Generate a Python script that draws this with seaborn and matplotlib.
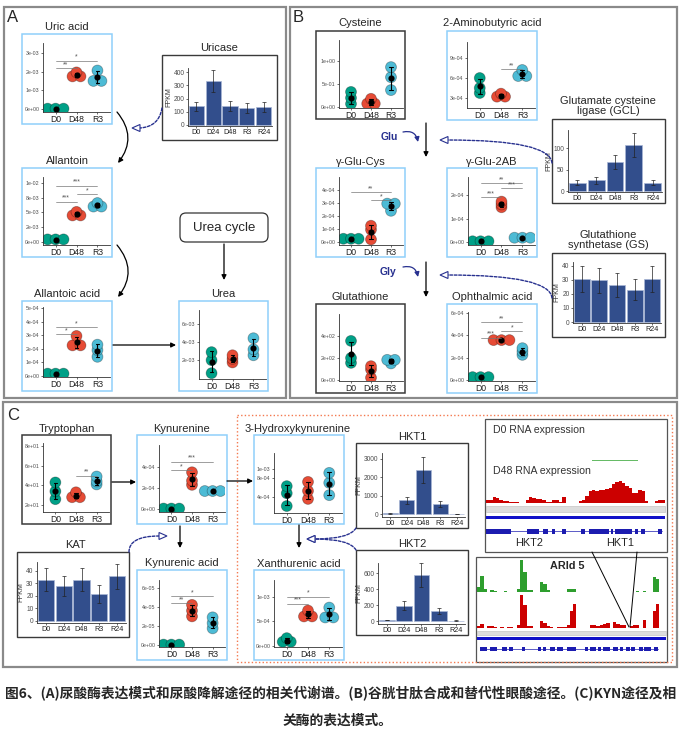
import warnings
import numpy as np
import pandas as pd
import matplotlib
matplotlib.use("Agg")
import matplotlib.pyplot as plt
import seaborn as sns
from matplotlib.patches import Rectangle, FancyArrowPatch, FancyBboxPatch, Polygon
from matplotlib.transforms import Affine2D

warnings.filterwarnings("ignore")

# ---------------- data ----------------
groups = ["D0", "D48", "R3"]
group_colors = ["#00A087", "#E64B35", "#4DBBD5"]
bar_groups = ["D0", "D24", "D48", "R3", "R24"]

# metabolites: three replicates per group (D0, D48, R3)
uric_acid = [[2e-5, 1e-5, 3e-5], [1.76e-3, 1.97e-3, 1.75e-3], [2.07e-3, 1.50e-3, 1.52e-3]]
allantoin = [[6e-4, 3e-4, 3e-4], [5.1e-3, 4.5e-3, 4.5e-3], [6.6e-3, 6.0e-3, 6.0e-3]]
allantoic_acid = [[2e-5, 1e-5, 1e-5], [2.95e-4, 2.3e-4, 2.2e-4], [2.3e-4, 1.9e-4, 1.4e-4]]
urea = [[2.9e-3, 2.0e-3, 0.55e-3], [2.55e-3, 2.15e-3, 1.75e-3], [4.45e-3, 3.2e-3, 2.55e-3]]
cysteine = [[0.33, 0.2, 0.07], [0.18, 0.07, 0.08], [0.87, 0.65, 0.37]]
aminobutyric = [[6.0e-4, 4.5e-4, 3.75e-4], [3.65e-4, 3.2e-4, 3.2e-4], [7.2e-4, 6.4e-4, 6.2e-4]]
glu_cys = [[2.5e-5, 2.5e-5, 2.5e-5], [1.25e-4, 0.95e-4, 0.2e-4], [2.95e-4, 2.95e-4, 2.4e-4]]
glu_2ab = [[3e-6, 3e-6, 3e-6], [1.48e-4, 1.6e-4, 1.72e-4], [1.8e-5, 1.8e-5, 1.8e-5]]
glutathione = [[355, 200, 155], [125, 95, 20], [185, 180, 150]]
ophthalmic = [[2.5e-5, 2.5e-5, 2.5e-5], [3.65e-4, 3.5e-4, 3.5e-4], [2.85e-4, 2.55e-4, 2.25e-4]]
tryptophan = [[43, 34, 26], [33, 28, 28], [49, 44, 41]]
kynurenine = [[4e-6, 4e-6, 4e-6], [3.5e-4, 2.7e-4, 2.3e-4], [1.7e-4, 1.7e-4, 1.72e-4]]
kynurenic_acid = [[5e-7, 5e-7, 5e-7], [4.2e-5, 3.6e-5, 3.0e-5], [2.9e-5, 2.3e-5, 1.75e-5]]
hydroxykyn = [[6.3e-4, 4.8e-4, 2.1e-4], [7.2e-4, 5.3e-4, 3.6e-4], [9.1e-4, 7.0e-4, 4.4e-4]]
xanthurenic = [[1.6e-4, 1.1e-4, 0.6e-4], [7.2e-4, 6.0e-4, 6.0e-4], [7.8e-4, 5.8e-4, 5.8e-4]]

# significance brackets: (group a, group b, height, stars)
uric_sig = [(0, 1, 2.2e-3, "**"), (0, 2, 2.6e-3, "*")]
allantoin_sig = [(0, 1, 6.8e-3, "***"), (1, 2, 8.1e-3, "*"), (0, 2, 9.5e-3, "***")]
allantoic_sig = [(0, 1, 3.1e-4, "*"), (0, 2, 3.6e-4, "*")]
amino_sig = [(1, 2, 7.3e-4, "**")]
glucys_sig = [(1, 2, 3.2e-4, "*"), (0, 2, 3.85e-4, "**")]
glu2ab_sig = [(0, 1, 1.92e-4, "***"), (1, 2, 2.3e-4, "***"), (0, 2, 2.5e-4, "**")]
ophth_sig = [(0, 1, 3.8e-4, "***"), (1, 2, 4.4e-4, "*"), (0, 2, 5.2e-4, "**")]
tryp_sig = [(1, 2, 50, "**")]
kyn_sig = [(0, 1, 3.7e-4, "*"), (0, 2, 4.5e-4, "***")]
kyna_sig = [(0, 1, 4.4e-5, "**"), (0, 2, 5.1e-5, "*")]
xan_sig = [(0, 1, 8.6e-4, "***"), (0, 2, 1.0e-3, "*")]

# y tick values and labels
uric_ticks = [0, 1e-3, 2e-3, 3e-3]
uric_labels = ["0e+00", "1e-03", "2e-03", "3e-03"]
allantoin_ticks = [0, 2.5e-3, 5e-3, 7.5e-3, 1e-2]
allantoin_labels = ["0e+00", "2e-03", "5e-03", "8e-03", "1e-02"]
allantoic_ticks = [0, 1e-4, 2e-4, 3e-4, 4e-4, 5e-4]
allantoic_labels = ["0e+00", "1e-04", "2e-04", "3e-04", "4e-04", "5e-04"]
urea_ticks = [2e-3, 4e-3, 6e-3]
urea_labels = ["2e-03", "4e-03", "6e-03"]
cys_ticks = [0, 0.5, 1.0]
cys_labels = ["0e+00", "5e-01", "1e+00"]
amino_ticks = [3e-4, 6e-4, 9e-4]
amino_labels = ["3e-04", "6e-04", "9e-04"]
glucys_ticks = [0, 1e-4, 2e-4, 3e-4, 4e-4]
glucys_labels = ["0e+00", "1e-04", "2e-04", "3e-04", "4e-04"]
glu2ab_ticks = [0, 1e-4, 2e-4]
glu2ab_labels = ["0e+00", "1e-04", "2e-04"]
gsh_ticks = [0, 200, 400]
gsh_labels = ["0e+00", "2e+02", "4e+02"]
ophth_ticks = [0, 2e-4, 4e-4, 6e-4]
ophth_labels = ["0e+00", "2e-04", "4e-04", "6e-04"]
tryp_ticks = [20, 40, 60, 80]
tryp_labels = ["2e+01", "4e+01", "6e+01", "8e+01"]
kyn_ticks = [0, 2e-4, 4e-4]
kyn_labels = ["0e+00", "2e-04", "4e-04"]
kyna_ticks = [0, 2e-5, 4e-5, 6e-5]
kyna_labels = ["0e+00", "2e-05", "4e-05", "6e-05"]
hk_ticks = [4e-4, 8e-4, 1e-3]
hk_labels = ["4e-04", "8e-04", "1e-03"]
xan_ticks = [0, 5e-4, 1e-3]
xan_labels = ["0e+00", "5e-04", "1e-03"]

# enzyme expression (FPKM mean and sd)
uricase_mean = [140, 335, 142, 128, 133]
uricase_sd = [35, 85, 38, 35, 38]
gcl_mean = [20, 25, 68, 108, 20]
gcl_sd = [6, 8, 17, 28, 6]
gs_mean = [30.5, 29.5, 26.5, 23, 30.5]
gs_sd = [9, 9, 8.5, 7.5, 9]
kat_mean = [33, 28, 33, 21.5, 35.5]
kat_sd = [9.5, 8, 9.5, 7, 10]
hkt1_mean = [40, 750, 2400, 560, 20]
hkt1_sd = [10, 200, 700, 150, 5]
hkt2_mean = [10, 190, 580, 125, 5]
hkt2_sd = [3, 55, 150, 35, 2]

# genome browser coverage (binned)
hkt_d0_cov = [0, 0, 0, 0, 0, 0, 0, 0, 0, 0, 0, 0, 0, 0, 0, 0, 0, 0, 0, 0, 0, 0, 0, 0, 0, 0, 0,
              0, 0, 0, 0, 0, 1.5, 1.5, 1.5, 2, 1.5, 1.5, 2, 1.5, 1.5, 1.5, 2, 1.5, 1.5, 1.5,
              0, 0, 0, 0, 0, 0, 0, 0]
hkt_d48_cov = [8, 10, 18, 15, 8, 5, 5, 3, 4, 4, 0, 0, 10, 18, 14, 12, 12, 10, 3, 3, 10, 8, 2, 18,
               0, 0, 0, 0, 5, 10, 22, 35, 38, 36, 38, 38, 40, 45, 55, 62, 65, 60, 50, 45, 30, 30,
               38, 35, 5, 0, 0, 5, 10, 8]
hkt_exons = [(0, 7.5), (12.5, 16), (17.2, 18.8), (20, 20.7), (23, 24.2), (28.8, 30), (31.2, 37),
             (37.7, 38.2), (39, 44), (44.8, 46), (46.7, 48), (52, 53)]
arid_d0_cov = [15, 50, 10, 0, 5, 3, 0, 0, 2, 0, 0, 0, 10, 97, 60, 5, 5, 0, 0, 30, 25, 5, 0, 0, 0,
               0, 0, 8, 10, 8, 0, 0, 0, 0, 0, 0, 0, 0, 0, 0, 0, 0, 0, 0, 0, 0, 0, 0, 2, 0, 3, 0,
               0, 45, 40, 0, 0]
arid_d48_cov = [5, 12, 0, 5, 5, 4, 0, 4, 0, 3, 3, 0, 10, 100, 70, 5, 5, 0, 0, 22, 15, 5, 3, 0, 4,
                4, 4, 10, 50, 72, 0, 0, 0, 0, 8, 8, 6, 8, 12, 15, 0, 18, 12, 8, 8, 0, 6, 8, 8, 0,
                25, 0, 0, 50, 72, 0, 0]
arid_exons = [(1, 3), (4, 6), (7.5, 9), (9.5, 11), (13.5, 14.5), (18.5, 19.2), (19.8, 20.8),
              (22, 23.5), (24, 26), (27, 30), (32.5, 33.5), (34, 36), (36.5, 37.5), (38, 40),
              (41, 42.5), (43, 44), (45, 46), (46.5, 47.5), (49, 50), (50.5, 52.5), (53.5, 54.5)]

caption_1 = "图6、(A)尿酸酶表达模式和尿酸降解途径的相关代谢谱。(B)谷胱甘肽合成和替代性眼酸途径。(C)KYN途径及相"
caption_2 = "关酶的表达模式。"

# ---------------- figure ----------------
sns.set_theme(style="ticks")
plt.rcParams["font.family"] = ["Liberation Sans", "Noto Sans CJK SC", "DejaVu Sans"]

W, H = 682, 738
fig = plt.figure(figsize=(W / 100, H / 100), dpi=100)
fig.patch.set_facecolor("white")
px = Affine2D().scale(1 / W, -1 / H).translate(0, 1) + fig.transFigure

BLUE_BOX = "#8FD0FA"
DARK_BOX = "#3a3a3a"
NAVY = "#27308F"
BAR = "#324E8C"


def axes_at(x0, y0, x1, y1):
    return fig.add_axes([x0 / W, 1 - y1 / H, (x1 - x0) / W, (y1 - y0) / H])


def frame(x0, y0, x1, y1, color=DARK_BOX, lw=1.0, ls="-"):
    fig.patches.append(Rectangle((x0, y0), x1 - x0, y1 - y0, transform=px, fill=False,
                                 ec=color, lw=lw, ls=ls, zorder=0))


def label(x, y, s, size=8, **kw):
    kw.setdefault("ha", "center")
    kw.setdefault("va", "center")
    fig.text(x, y, s, transform=px, size=size, **kw)


def arrow(a, b, rad=0.0, color="black"):
    fig.patches.append(FancyArrowPatch(a, b, transform=px, arrowstyle="-|>", mutation_scale=7,
                                       lw=0.9, color=color, connectionstyle=f"arc3,rad={rad}",
                                       shrinkA=0, shrinkB=0))


def dashed(a, b, style, head, direction):
    fig.patches.append(FancyArrowPatch(a, b, transform=px, arrowstyle="-", lw=1.0, color=NAVY,
                                       ls=(0, (2, 1.2)), connectionstyle=style,
                                       shrinkA=0, shrinkB=0))
    hx, hy = head
    fig.patches.append(Polygon([(hx, hy), (hx - 8 * direction, hy - 3.5),
                                (hx - 8 * direction, hy + 3.5)], closed=True, transform=px,
                               fc="white", ec=NAVY, lw=0.8))


def style_axes(ax, ysize, xsize):
    sns.despine(ax=ax)
    for s in ["left", "bottom"]:
        ax.spines[s].set_color("#333333")
        ax.spines[s].set_linewidth(0.6)
    ax.tick_params(axis="both", length=1.5, width=0.5, color="#333333", pad=1)
    ax.tick_params(axis="y", labelsize=ysize, labelcolor="#4d4d4d")
    ax.tick_params(axis="x", labelsize=xsize, labelcolor="#222222")
    ax.set_xlabel("")
    ax.set_ylabel("")
    ax.patch.set_alpha(0)


def dot_stack(values, binwidth, step=0.38):
    # dot-density style stacking (like ggplot geom_dotplot, stackdir="center")
    rows = []
    for g, vals in enumerate(values):
        bins = []
        for v in sorted(vals):
            if bins and v - bins[-1][0] < binwidth:
                bins[-1].append(v)
            else:
                bins.append([v])
        for b in bins:
            yc = (b[0] + b[-1]) / 2
            for k in range(len(b)):
                rows.append((groups[g], g + (k - (len(b) - 1) / 2) * step, yc))
    return pd.DataFrame(rows, columns=["group", "xpos", "value"])


def dot_panel(values, title, box, title_y, axis, ylim, ticks, tick_labels, sigs=(), border=BLUE_BOX,
              title_x=None):
    x0, y0, x1, y1 = box
    frame(x0, y0, x1, y1, color=border, lw=1.1)
    label((x0 + x1) / 2 if title_x is None else title_x, title_y, title, size=8)
    ax = axes_at(*axis)
    binwidth = 2.5 * (ylim[1] - ylim[0]) / (axis[3] - axis[1])
    dots = dot_stack(values, binwidth)
    sns.scatterplot(data=dots, x="xpos", y="value", hue="group", palette=group_colors, s=62,
                    linewidth=0.6, edgecolor=(0, 0, 0, 0.3), legend=False, ax=ax)
    raw = pd.DataFrame({"group": np.repeat(groups, 3), "value": np.concatenate(values)})
    sns.pointplot(data=raw, x="group", y="value", color="black", errorbar="sd", markers="o",
                  markersize=2.4, linestyle="none", capsize=0.18, err_kws={"linewidth": 0.8}, ax=ax)
    for a, b, yv, stars in sigs:
        ax.plot([a, b], [yv, yv], color="#777777", lw=0.5)
        ax.text((a + b) / 2, yv, stars, ha="center", va="bottom", size=5, color="#555555")
    ax.set_xlim(-0.6, 2.6)
    ax.set_xticks(range(len(groups)), labels=groups)
    ax.set_ylim(*ylim)
    ax.set_yticks(ticks, labels=tick_labels)
    style_axes(ax, 3.8, 6.2)
    return ax


def bar_panel(means, sds, title, box, title_xy, axis, ylim, ticks):
    x0, y0, x1, y1 = box
    frame(x0, y0, x1, y1, color=DARK_BOX, lw=1.0)
    label(*title_xy, title, size=8, linespacing=1.05)
    ax = axes_at(*axis)
    sns.barplot(x=bar_groups, y=means, color=BAR, saturation=1, width=0.9, edgecolor="#A9B6D6",
                linewidth=0.5, ax=ax)
    ax.errorbar(np.arange(len(means)), means, yerr=sds, fmt="none", ecolor="#222222",
                elinewidth=0.5, capsize=1.5, capthick=0.5)
    ax.set_xlim(-0.5, 4.5)
    ax.set_ylim(*ylim)
    ax.set_yticks(ticks)
    style_axes(ax, 4.8, 5.2)
    ax.set_ylabel("FPKM", size=5, labelpad=1, color="#333333")
    return ax


def track(x0, y0, x1, y1, cov, color, top):
    ax = axes_at(x0, y0, x1, y1)
    ax.bar(np.arange(len(cov)), cov, width=1.0, align="edge", color=color, lw=0)
    ax.axhline(0, color="#d0d0d0", lw=0.6)
    ax.set_xlim(0, len(cov))
    ax.set_ylim(0, top)
    ax.axis("off")


def gene_model(x0, y0, x1, y1, exons, n):
    ax = axes_at(x0, y0, x1, y1)
    ax.plot([exons[0][0], exons[-1][1]], [0.5, 0.5], color="#1C1CB0", lw=0.5)
    for s, e in exons:
        ax.add_patch(Rectangle((s, 0), e - s, 1, color="#1C1CB0", lw=0))
    ax.set_xlim(0, n)
    ax.set_ylim(0, 1)
    ax.axis("off")


# panel frames
frame(4, 7, 286, 398, color="#8a8a8a", lw=1.6)
frame(290, 7, 677, 398, color="#8a8a8a", lw=1.6)
frame(3, 402, 677, 667, color="#8a8a8a", lw=1.6)
frame(237, 415, 672, 662, color="#F4794F", lw=1.0, ls=(0, (1, 1.6)))
label(13, 17, "A", size=12)
label(298, 17, "B", size=12)
label(13, 416, "C", size=12)

# ---- panel A ----
dot_panel(uric_acid, "Uric acid", (22, 34, 112, 124), 27, (43, 43, 110, 112),
          (-1.6e-4, 3.55e-3), uric_ticks, uric_labels, uric_sig)
dot_panel(allantoin, "Allantoin", (22, 168, 112, 257), 161, (43, 177, 110, 245),
          (-5e-4, 0.011), allantoin_ticks, allantoin_labels, allantoin_sig)
dot_panel(allantoic_acid, "Allantoic acid", (22, 301, 112, 391), 294, (43, 307, 110, 377),
          (-1e-5, 5.1e-4), allantoic_ticks, allantoic_labels, allantoic_sig)
dot_panel(urea, "Urea", (179, 301, 268, 391), 294, (199, 310, 266, 379),
          (-1e-4, 7.6e-3), urea_ticks, urea_labels)
bar_panel(uricase_mean, uricase_sd, "Uricase", (162, 55, 277, 140), (219, 48),
          (188, 68, 272, 126), (-8, 432), [0, 100, 200, 300, 400])

fig.patches.append(FancyBboxPatch((180, 213), 88, 29, transform=px, fc="white", ec="#333333",
                                  lw=0.9, boxstyle="round,pad=0,rounding_size=6"))
label(224, 227.5, "Urea cycle", size=9.5)
arrow((224, 244), (224, 280))
arrow((117, 112), (118, 163), rad=-0.4)
arrow((117, 245), (118, 297), rad=-0.4)
arrow((113, 345), (176, 345))
dashed((162, 108), (140, 128), "arc3,rad=-0.4", (132, 128), -1)

# ---- panel B ----
dot_panel(cysteine, "Cysteine", (316, 31, 405, 119), 23, (339, 40, 403, 108),
          (-0.02, 1.46), cys_ticks, cys_labels, border=DARK_BOX)
dot_panel(aminobutyric, "2-Aminobutyric acid", (447, 31, 537, 120), 23, (467, 42, 535, 108),
          (1.5e-4, 1.14e-3), amino_ticks, amino_labels, amino_sig)
dot_panel(glu_cys, "γ-Glu-Cys", (316, 168, 405, 257), 162, (339, 177, 403, 245),
          (-0.23e-4, 5.0e-4), glucys_ticks, glucys_labels, glucys_sig)
dot_panel(glu_2ab, "γ-Glu-2AB", (447, 168, 537, 257), 162, (468, 177, 535, 245),
          (-0.13e-4, 2.77e-4), glu2ab_ticks, glu2ab_labels, glu2ab_sig)
dot_panel(glutathione, "Glutathione", (316, 304, 405, 393), 297, (339, 314, 403, 381),
          (-10, 600), gsh_ticks, gsh_labels, border=DARK_BOX)
dot_panel(ophthalmic, "Ophthalmic acid", (447, 304, 537, 393), 297, (468, 312, 535, 381),
          (-0.1e-4, 6.1e-4), ophth_ticks, ophth_labels, ophth_sig)
bar_panel(gcl_mean, gcl_sd, "Glutamate cysteine\nligase (GCL)", (552, 119, 665, 203), (608, 106),
          (568, 130, 662, 192), (-2, 143), [0, 50, 100])
bar_panel(gs_mean, gs_sd, "Glutathione\nsynthetase (GS)", (552, 253, 665, 337), (608, 240),
          (573, 262, 661, 323), (-0.7, 42.5), [0, 10, 20, 30, 40])

arrow((426, 123), (426, 157))
arrow((426, 262), (426, 297))
arrow((403, 132), (418, 142), rad=-0.5, color=NAVY)
arrow((403, 267), (418, 277), rad=-0.5, color=NAVY)
label(389, 137, "Glu", size=7.5, weight="bold", color=NAVY)
label(388, 272, "Gly", size=7.5, weight="bold", color=NAVY)
dashed((552, 163), (448, 140), "angle3,angleA=95,angleB=0", (440, 140), -1)
dashed((552, 298), (448, 275), "angle3,angleA=95,angleB=0", (440, 275), -1)

# ---- panel C ----
dot_panel(tryptophan, "Tryptophan", (22, 435, 111, 524), 429, (43, 443, 109, 512),
          (13, 83), tryp_ticks, tryp_labels, tryp_sig, border=DARK_BOX)
dot_panel(kynurenine, "Kynurenine", (137, 435, 227, 524), 429, (159, 445, 225, 512),
          (-0.29e-4, 6.1e-4), kyn_ticks, kyn_labels, kyn_sig)
dot_panel(kynurenic_acid, "Kynurenic acid", (137, 570, 227, 660), 563, (159, 580, 225, 647),
          (-0.2e-5, 6.8e-5), kyna_ticks, kyna_labels, kyna_sig)
dot_panel(hydroxykyn, "3-Hydroxykynurenine", (254, 435, 344, 524), 429, (274, 453, 342, 513),
          (6.3e-5, 1.33e-3), hk_ticks, hk_labels, title_x=298)
dot_panel(xanthurenic, "Xanthurenic acid", (254, 570, 344, 660), 564, (274, 580, 342, 647),
          (-0.2e-4, 1.34e-3), xan_ticks, xan_labels, xan_sig)
bar_panel(kat_mean, kat_sd, "KAT", (17, 552, 129, 637), (75, 545),
          (37, 562, 126, 623), (-1.6, 47), [0, 10, 20, 30, 40])
bar_panel(hkt1_mean, hkt1_sd, "HKT1", (356, 443, 468, 528), (412, 437),
          (382, 453, 465, 517), (-160, 3320), [0, 1000, 2000, 3000])
bar_panel(hkt2_mean, hkt2_sd, "HKT2", (356, 550, 468, 635), (412, 544),
          (378, 563, 465, 624), (-37, 725), [0, 200, 400, 600])

arrow((112, 482), (136, 482))
arrow((180, 526), (180, 548))
arrow((227, 481), (253, 481))
arrow((299, 525), (299, 548))
dashed((129, 552), (159, 536), "angle3,angleA=90,angleB=0", (167, 536), 1)
dashed((356, 528), (315, 539), "angle3,angleA=60,angleB=0", (307, 539), -1)
dashed((356, 550), (315, 539), "angle3,angleA=-60,angleB=0", (307, 539), -1)

# genome browser: HKT locus
fig.patches.append(Rectangle((485, 419), 182, 133, transform=px, fc="white", ec="#555555",
                             lw=0.9, zorder=-1))
label(493, 430, "D0 RNA expression", size=7.6, ha="left", color="#333333")
track(486, 445, 665, 461, hkt_d0_cov, "#66BB66", 40)
label(493, 471, "D48 RNA expression", size=7.6, ha="left", color="#333333")
track(486, 480, 665, 503, hkt_d48_cov, "#CC0000", 68)
fig.patches.append(Rectangle((486, 506), 179, 6, transform=px, fc="#DDDDDD", ec="#BBBBBB", lw=0.4))
fig.patches.append(Rectangle((486, 515.5), 179, 3, transform=px, fc="#1010C8", lw=0))
gene_model(486, 528.5, 665, 533.5, hkt_exons, len(hkt_d48_cov))
label(529, 543, "HKT2", size=7.8)
label(620, 543, "HKT1", size=7.8)

# genome browser: ARId 5
fig.patches.append(Rectangle((476, 557), 191, 105, transform=px, fc="white", ec="#555555",
                             lw=0.9, zorder=-1))
label(567, 566, "ARId 5", size=7.8, weight="bold")
track(477, 559, 666, 592, arid_d0_cov, "#2E9E2E", 100)
track(477, 594, 666, 628, arid_d48_cov, "#CC0000", 102)
fig.patches.append(Rectangle((477, 631), 189, 4, transform=px, fc="#DDDDDD", ec="#BBBBBB", lw=0.4))
fig.patches.append(Rectangle((477, 637), 189, 3, transform=px, fc="#1010C8", lw=0))
gene_model(477, 647, 666, 651, arid_exons, len(arid_d48_cov))
fig.lines.append(plt.Line2D([592, 629], [552, 627], transform=px, color="black", lw=0.7))
fig.lines.append(plt.Line2D([637, 630], [552, 627], transform=px, color="black", lw=0.7))

# caption
label(341, 693, caption_1, size=9.9, weight="bold", family=["Noto Sans CJK SC", "DejaVu Sans"])
label(338, 721, caption_2, size=9.9, weight="bold", family=["Noto Sans CJK SC", "DejaVu Sans"])

fig.savefig("out.png", dpi=100)
